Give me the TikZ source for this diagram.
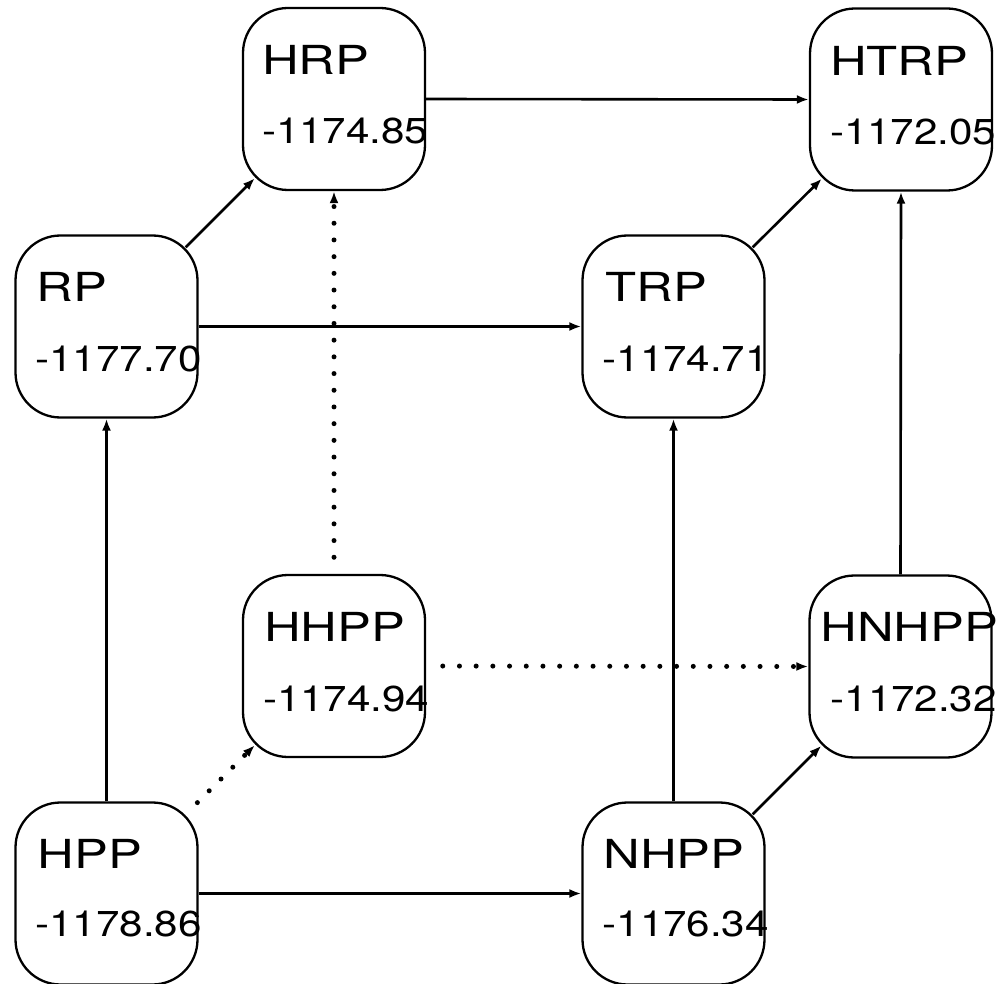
\documentclass[tikz,border=0pt]{standalone}
\usepackage{fontspec}
\usepackage{graphicx}
\setmainfont{TeX Gyre Heros}
\usetikzlibrary{arrows.meta,calc}

% wide lettering for state names and their values
\newcommand\statename[1]{\scalebox{1.27}[1]{\fontsize{40}{40}\selectfont #1}}
\newcommand\stateval[1]{\scalebox{1.17}[1]{\fontsize{36}{36}\selectfont #1}}

\begin{document}
\begin{tikzpicture}[x=1pt,y=-1pt,
  statebox/.style={draw,line width=2.3pt,rounded corners=45pt,
    minimum width=182pt,minimum height=182pt,inner sep=0pt},
  lbl/.style={anchor=base west,inner sep=0pt},
  conn/.style={line width=2.6pt,-{Latex[length=12pt,width=9pt]}},
  dotconn/.style={line width=5pt,line cap=round,
    dash pattern=on 0pt off 16.7pt,dash phase=0.1pt,
    -{Latex[length=12pt,width=9pt]}},
]
\useasboundingbox (0,0) rectangle (1001,984);

% state boxes
\node[statebox] (HRP)   at (334,99)    {};
\node[statebox] (HTRP)  at (901,99.5)  {};
\node[statebox] (RP)    at (106.5,326.5) {};
\node[statebox] (TRP)   at (673.5,326.5) {};
\node[statebox] (HHPP)  at (334,666)   {};
\node[statebox] (HNHPP) at (900.5,666.5) {};
\node[statebox] (HPP)   at (106.5,893.5) {};
\node[statebox] (NHPP)  at (673.5,893.5) {};

% names and values
\node[lbl] (HRPn)   at ($(HRP.north west)+(20,68)$)    {\statename{HRP}};
\node[lbl] (HRPv)   at ($(HRP.north west)+(20,137)$)   {\stateval{-1174.85}};
\node[lbl] (HTRPn)  at ($(HTRP.north west)+(21,68)$)   {\statename{HTRP}};
\node[lbl] (HTRPv)  at ($(HTRP.north west)+(21,137)$)  {\stateval{-1172.05}};
\node[lbl] (RPn)    at ($(RP.north west)+(22,67)$)     {\statename{RP}};
\node[lbl] (RPv)    at ($(RP.north west)+(21,137)$)    {\stateval{-1177.70}};
\node[lbl] (TRPn)   at ($(TRP.north west)+(24,67)$)    {\statename{TRP}};
\node[lbl] (TRPv)   at ($(TRP.north west)+(21,137)$)   {\stateval{-1174.71}};
\node[lbl] (HHPPn)  at ($(HHPP.north west)+(22,68)$)   {\statename{HHPP}};
\node[lbl] (HHPPv)  at ($(HHPP.north west)+(21,138)$)  {\stateval{-1174.94}};
\node[lbl] (HNHPPn) at ($(HNHPP.north west)+(12,67)$)  {\statename{HNHPP}};
\node[lbl] (HNHPPv) at ($(HNHPP.north west)+(22,137)$) {\stateval{-1172.32}};
\node[lbl] (HPPn)   at ($(HPP.north west)+(23,67)$)    {\statename{HPP}};
\node[lbl] (HPPv)   at ($(HPP.north west)+(21,135)$)   {\stateval{-1178.86}};
\node[lbl] (NHPPn)  at ($(NHPP.north west)+(22,67)$)   {\statename{NHPP}};
\node[lbl] (NHPPv)  at ($(NHPP.north west)+(21,135)$)  {\stateval{-1176.34}};

% solid transitions
\draw[conn] (HPP.north) -- (RP.south);
\draw[conn] (HPP.east) -- (NHPP.west);
\draw[conn] (RP.east) -- (TRP.west);
\draw[conn] (HRP.east) -- (HTRP.west);
\draw[conn] (NHPP.north) -- (TRP.south);
\draw[conn] (HNHPP.north) -- (HTRP.south);
\draw[conn] ($(RP.north east)+(-13,13)$) -- ($(HRP.south west)+(13,-13)$);
\draw[conn] ($(TRP.north east)+(-13,13)$) -- ($(HTRP.south west)+(13,-13)$);
\draw[conn] ($(NHPP.north east)+(-13,13)$) -- ($(HNHPP.south west)+(13,-13)$);

% dotted transitions
\draw[dotconn] ($(HPP.north east)+(-13,13)$) -- ($(HHPP.south west)+(13,-13)$);
\draw[dotconn] (HHPP.north) -- (HRP.south);
\draw[dotconn] (HHPP.east) -- (HNHPP.west);
\end{tikzpicture}
\end{document}
